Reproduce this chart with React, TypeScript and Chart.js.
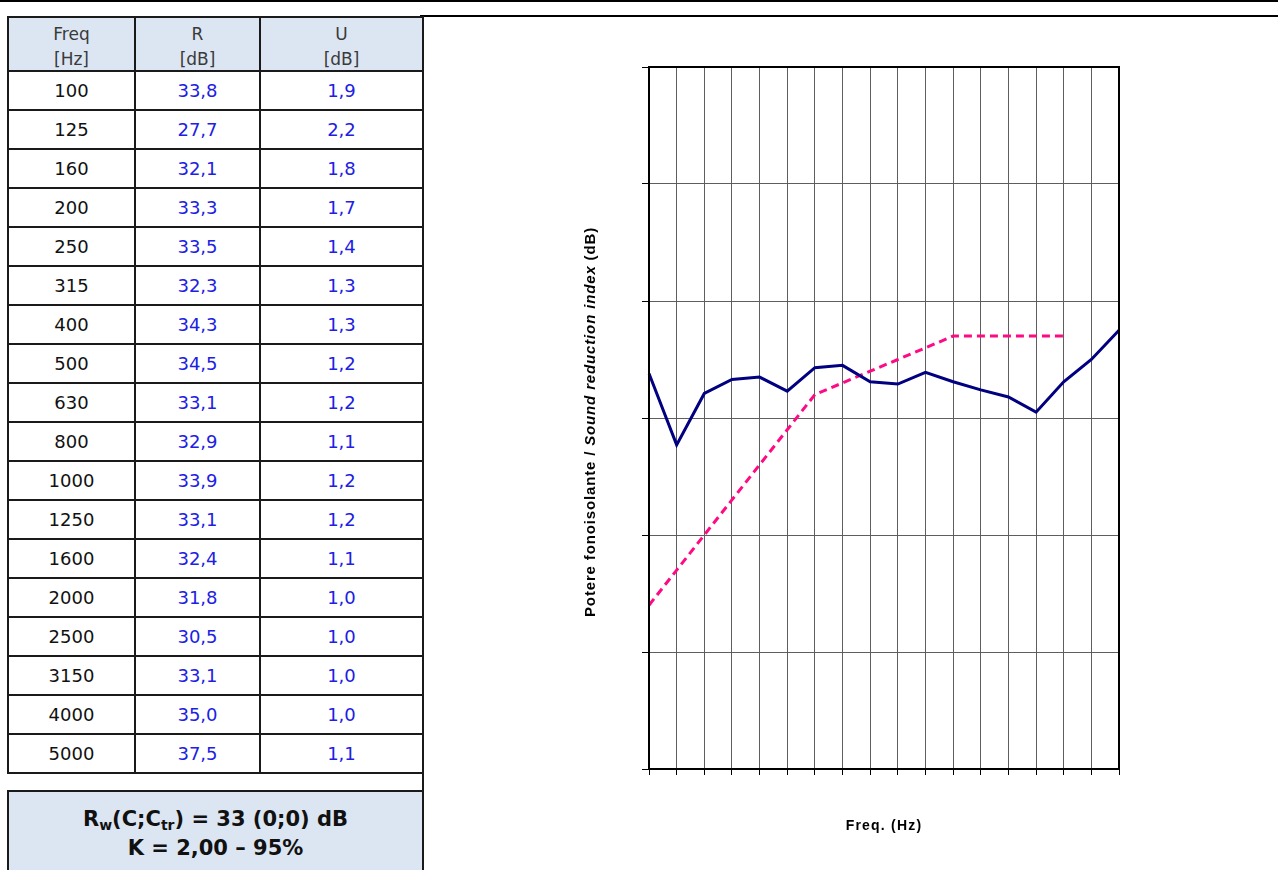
import React, { useEffect, useRef } from "react";
import { Chart, registerables } from "chart.js";

Chart.register(...registerables);

const frequencies = ["100", "125", "160", "200", "250", "315", "400", "500", "630", "800", "1000", "1250", "1600", "2000", "2500", "3150", "4000", "5000"];
const rValues = [33.8, 27.7, 32.1, 33.3, 33.5, 32.3, 34.3, 34.5, 33.1, 32.9, 33.9, 33.1, 32.4, 31.8, 30.5, 33.1, 35.0, 37.5];
const uValues = [1.9, 2.2, 1.8, 1.7, 1.4, 1.3, 1.3, 1.2, 1.2, 1.1, 1.2, 1.2, 1.1, 1.0, 1.0, 1.0, 1.0, 1.1];
const referenceCurve = [14, 17, 20, 23, 26, 29, 32, 33, 34, 35, 36, 37, 37, 37, 37, 37, null, null];
const yMin = 0;
const yMax = 60;
const yStep = 10;

const xTitle = "Freq. (Hz)";
const yTitleParts = [
  { text: "Potere fonoisolante / ", italic: false },
  { text: "Sound reduction index", italic: true },
  { text: " (dB)", italic: false },
];

const fmt = (v: number) => v.toFixed(1).replace(".", ",");

const framePlugin = {
  id: "frameAndTitles",
  afterDraw(chart: any) {
    const { ctx, chartArea } = chart;
    ctx.save();
    ctx.strokeStyle = "#000";
    ctx.lineWidth = 2;
    ctx.strokeRect(chartArea.left, chartArea.top, chartArea.right - chartArea.left, chartArea.bottom - chartArea.top);

    ctx.fillStyle = "#000";
    ctx.font = 'bold 14px "Liberation Sans", Arial, sans-serif';
    (ctx as any).letterSpacing = "1.2px";
    ctx.textAlign = "center";
    ctx.textBaseline = "middle";
    ctx.fillText(xTitle, (chartArea.left + chartArea.right) / 2, chartArea.bottom + 57);

    ctx.translate(31, 372);
    ctx.rotate(-Math.PI / 2);
    (ctx as any).letterSpacing = "0.85px";
    ctx.textAlign = "left";
    const fontFor = (it: boolean) => (it ? 'italic bold 15px "Liberation Sans", Arial, sans-serif' : 'bold 15px "Liberation Sans", Arial, sans-serif');
    let total = 0;
    const widths = yTitleParts.map((p) => {
      ctx.font = fontFor(p.italic);
      const w = ctx.measureText(p.text).width;
      total += w;
      return w;
    });
    let x = -total / 2;
    yTitleParts.forEach((p, i) => {
      ctx.font = fontFor(p.italic);
      ctx.fillText(p.text, x, 0);
      x += widths[i];
    });
    ctx.restore();
  },
};

const border = "2px solid #1a1a1a";
const headBg = "#dce6f2";
const valueColor = "rgb(32,32,228)";
const cellFont = '"DejaVu Sans", sans-serif';
const subStyle = { fontSize: 14, verticalAlign: "-4px", lineHeight: 0 };

export default function App() {
  const canvasRef = useRef<HTMLCanvasElement | null>(null);

  useEffect(() => {
    if (!canvasRef.current) return;
    const chart = new Chart(canvasRef.current, {
      type: "line",
      data: {
        labels: frequencies,
        datasets: [
          {
            label: "R",
            data: rValues,
            borderColor: "#000080",
            borderWidth: 3,
            pointRadius: 0,
            tension: 0,
            fill: false,
          },
          {
            label: "Reference",
            data: referenceCurve,
            borderColor: "#ff0a85",
            borderWidth: 3,
            borderDash: [8, 5],
            pointRadius: 0,
            tension: 0,
            fill: false,
            spanGaps: false,
          },
        ],
      },
      options: {
        responsive: false,
        animation: false,
        layout: { padding: { top: 17, right: 21, left: 0, bottom: 0 } },
        plugins: { legend: { display: false }, tooltip: { enabled: false } },
        scales: {
          x: {
            type: "category",
            offset: false,
            ticks: { display: false },
            grid: { color: "#5e5e5e", lineWidth: 1, drawTicks: true, tickLength: 6, tickColor: "#000" },
            border: { display: false },
            afterFit: (s: any) => {
              s.height = 81;
            },
          },
          y: {
            min: yMin,
            max: yMax,
            ticks: { display: false, stepSize: yStep },
            grid: { color: "#5e5e5e", lineWidth: 1, drawTicks: true, tickLength: 7, tickColor: "#000" },
            border: { display: false },
            afterFit: (s: any) => {
              s.width = 89;
            },
          },
        },
      },
      plugins: [framePlugin],
    } as any);
    return () => chart.destroy();
  }, []);

  const rowH = 39;
  const colW = [127, 125];

  return (
    <div style={{ position: "fixed", left: 0, top: 0, width: 1278, height: 870, background: "#fff", overflow: "hidden" }}>
      <div style={{ position: "absolute", left: 0, top: 0, width: 1278, height: 2, background: "#000" }} />
      <div style={{ position: "absolute", left: 420, top: 15, width: 858, height: 2, background: "#000" }} />

      <div style={{ position: "absolute", left: 7, top: 16, width: 417, boxSizing: "border-box", border: border, borderBottom: "none", fontFamily: cellFont }}>
        <div style={{ display: "flex", height: 54, boxSizing: "border-box", borderBottom: border, background: headBg, color: "#3a3a3a", fontSize: 17, lineHeight: "25px", textAlign: "center" }}>
          <div style={{ width: colW[0], boxSizing: "border-box", borderRight: border, paddingTop: 4 }}>Freq<br />[Hz]</div>
          <div style={{ width: colW[1], boxSizing: "border-box", borderRight: border, paddingTop: 4 }}>R<br />[dB]</div>
          <div style={{ flex: 1, paddingTop: 4 }}>U<br />[dB]</div>
        </div>
        {frequencies.map((f, i) => (
          <div key={f} style={{ display: "flex", height: rowH, boxSizing: "border-box", borderBottom: border, fontSize: 18, textAlign: "center", alignItems: "stretch" }}>
            <div style={{ width: colW[0], boxSizing: "border-box", borderRight: border, color: "#111", display: "flex", alignItems: "center", justifyContent: "center" }}>{f}</div>
            <div style={{ width: colW[1], boxSizing: "border-box", borderRight: border, color: valueColor, display: "flex", alignItems: "center", justifyContent: "center" }}>{fmt(rValues[i])}</div>
            <div style={{ flex: 1, color: valueColor, display: "flex", alignItems: "center", justifyContent: "center" }}>{fmt(uValues[i])}</div>
          </div>
        ))}
      </div>
      <div style={{ position: "absolute", left: 422, top: 774, width: 2, height: 17, background: "#1a1a1a" }} />
      <div style={{ position: "absolute", left: 7, top: 790, width: 417, height: 100, boxSizing: "border-box", border: border, background: headBg, fontFamily: cellFont, fontWeight: "bold", fontSize: 21, textAlign: "center", color: "#111", lineHeight: "29px", paddingTop: 13 }}>
        <div style={{ height: 29 }}>
          R<sub style={subStyle}>w</sub>(C;C<sub style={subStyle}>tr</sub>) = 33 (0;0) dB
        </div>
        <div style={{ height: 29 }}>K = 2,00 – 95%</div>
      </div>

      <canvas ref={canvasRef} width={580} height={800} style={{ position: "absolute", left: 560, top: 50, width: 580, height: 800 }} />
    </div>
  );
}
